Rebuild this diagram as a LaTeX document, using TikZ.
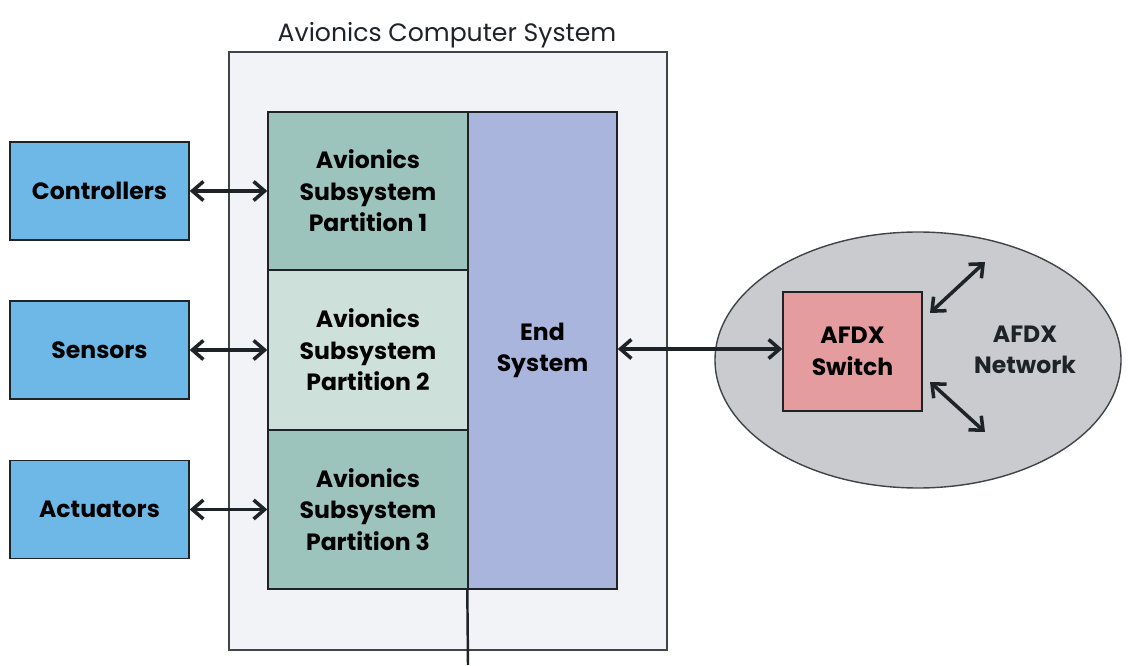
\documentclass[tikz,border=0pt]{standalone}
\usepackage{fontspec}
\setmainfont{Poppins}
\usepackage{xcolor}
\usetikzlibrary{arrows.meta,shapes.geometric}
\definecolor{devblue}{HTML}{6EB8E8}
\definecolor{partdark}{HTML}{9CC4BC}
\definecolor{partlight}{HTML}{CDE1DA}
\definecolor{endsys}{HTML}{A9B5DC}
\definecolor{acsback}{HTML}{F1F3F6}
\definecolor{netgray}{HTML}{C9CBCE}
\definecolor{switchred}{HTML}{E49C9E}
\definecolor{ink}{HTML}{1E2328}

\begin{document}
\begin{tikzpicture}[
        box/.style={draw=ink, line width=0.8pt, align=center, font=\bfseries\fontsize{13.4}{18}\selectfont, inner sep=0pt},
        link/.style={ink, line width=2pt, {Straight Barb[length=2.2mm,width=3.8mm]}-{Straight Barb[length=2.2mm,width=3.8mm]}}
    ]
        \useasboundingbox (0,0) rectangle (22.6,13.3);

        \node[font=\fontsize{14.3}{17}\selectfont, text=ink] (title) at (8.94,12.6) {Avionics Computer System};
        \filldraw[fill=acsback, draw=ink!85, line width=0.9pt] (4.58,0.3) rectangle (13.34,12.26);

        \node[box, fill=partdark, minimum width=4cm, minimum height=3.16cm] (p1) at (7.36,9.48) {Avionics\\Subsystem\\Partition 1};
        \node[box, fill=partlight, minimum width=4cm, minimum height=3.2cm] (p2) at (7.36,6.3) {Avionics\\Subsystem\\Partition 2};
        \node[box, fill=partdark, minimum width=4cm, minimum height=3.18cm] (p3) at (7.36,3.11) {Avionics\\Subsystem\\Partition 3};
        \node[box, fill=endsys, minimum width=2.98cm, minimum height=9.54cm] (es) at (10.85,6.29) {End\\System};
        \draw[ink, line width=1.4pt] (es.south west) -- (9.36,0);

        \node[box, fill=devblue, minimum width=3.58cm, minimum height=1.96cm] (ctrl) at (1.99,9.48) {Controllers};
        \node[box, fill=devblue, minimum width=3.58cm, minimum height=1.96cm] (sens) at (1.99,6.3) {Sensors};
        \node[box, fill=devblue, minimum width=3.58cm, minimum height=1.96cm] (act) at (1.99,3.11) {Actuators};

        \draw[link] (ctrl.east) -- (ctrl.east -| p1.west);
        \draw[link] (sens.east) -- (sens.east -| p2.west);
        \draw[link] (act.east) -- (act.east -| p3.west);

        \node[ellipse, draw=ink!85, fill=netgray, line width=0.8pt, minimum width=8.12cm, minimum height=5.12cm] (net) at (18.36,6.1) {};
        \node[box, fill=switchred, minimum width=2.78cm, minimum height=2.38cm] (sw) at (17.05,6.27) {AFDX\\Switch};
        \node[align=center, font=\bfseries\fontsize{13.4}{18}\selectfont, text=ink] (netlbl) at (20.5,6.3) {AFDX\\Network};

        \draw[link] (es.east |- 0,6.32) -- (sw.west |- 0,6.32);

        \coordinate (upA) at (18.6,7.04);
        \coordinate (upB) at (19.7,8.06);
        \coordinate (loA) at (18.6,5.66);
        \coordinate (loB) at (19.7,4.66);
        \draw[link] (upA) -- (upB);
        \draw[link] (loA) -- (loB);
    \end{tikzpicture}
\end{document}
